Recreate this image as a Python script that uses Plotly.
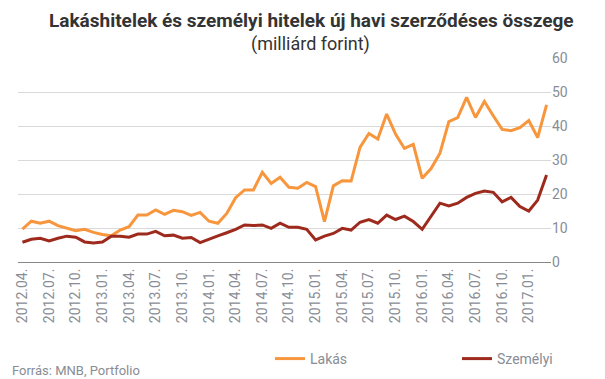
import plotly.graph_objects as go

months = [f"{y}.{m:02d}." for y in range(2012, 2018) for m in range(1, 13)]
months = months[3:3 + 60]  # 2012.04. .. 2017.03.

lakas = [9.7, 12.0, 11.4, 12.0, 10.7, 9.9, 9.2, 9.6, 8.7, 8.1,
         7.7, 9.4, 10.4, 13.8, 13.8, 15.3, 14.0, 15.2, 14.8, 13.7,
         14.6, 12.0, 11.4, 14.3, 18.9, 21.2, 21.2, 26.4, 23.1, 24.9,
         22.0, 21.7, 23.4, 22.2, 11.9, 22.4, 23.9, 23.8, 33.7, 37.8,
         36.2, 43.5, 37.6, 33.4, 34.6, 24.6, 27.5, 32.0, 41.3, 42.5,
         48.4, 42.5, 47.2, 43.0, 39.0, 38.6, 39.5, 41.6, 36.6, 46.2]

szemelyi = [5.8, 6.7, 7.0, 6.2, 7.0, 7.6, 7.3, 5.9, 5.6, 5.9,
            7.6, 7.6, 7.3, 8.2, 8.2, 9.0, 7.7, 7.9, 7.0, 7.2,
            5.7, 6.8, 7.7, 8.6, 9.6, 10.9, 10.7, 10.9, 9.9, 11.4,
            10.2, 10.2, 9.6, 6.5, 7.6, 8.4, 9.9, 9.4, 11.7, 12.5,
            11.4, 13.8, 12.5, 13.5, 11.9, 9.6, 13.5, 17.3, 16.5, 17.3,
            19.0, 20.2, 20.9, 20.5, 17.7, 19.0, 16.3, 15.0, 18.2, 25.6]

tick_idx = list(range(0, 60, 3))
tick_text = [months[i] for i in tick_idx]
y_ticks = [0, 10, 20, 30, 40, 50, 60]

GRAY = "#888d95"
FONT = "Roboto"
PW, PH = 533, 204  # plot area size in px

fig = go.Figure()
fig.add_trace(go.Scatter(x=list(range(60)), y=lakas, name="Lakás", mode="lines",
                         line=dict(color="#F7963C", width=3)))
fig.add_trace(go.Scatter(x=list(range(60)), y=szemelyi, name="Személyi", mode="lines",
                         line=dict(color="#9E2A1E", width=3)))

fig.update_layout(
    width=605, height=379,
    margin=dict(l=18, r=54, t=58, b=117, autoexpand=False),
    paper_bgcolor="white", plot_bgcolor="white",
    font=dict(family=FONT, color=GRAY, size=13),
    showlegend=True,
    legend=dict(orientation="h", x=(270 - 18) / PW, xanchor="left",
                y=-(359 - 262) / PH, yanchor="middle",
                font=dict(size=14, color=GRAY), itemwidth=30,
                entrywidth=142, entrywidthmode="pixels", traceorder="normal"),
    xaxis=dict(range=[-0.5, 59.5], tickmode="array", tickvals=tick_idx, ticktext=tick_text,
               tickangle=-90, showgrid=False, zeroline=False, showline=True,
               linecolor="#888888", linewidth=1, ticks="",
               tickfont=dict(size=14, color=GRAY, family=FONT)),
    yaxis=dict(range=[0, 60], side="right", tickvals=y_ticks, showgrid=True,
               gridcolor="#d9d9d9", gridwidth=1, zeroline=False, showline=False,
               ticks="", tickfont=dict(size=14, color=GRAY, family=FONT)),
    annotations=[
        dict(text="<b>Lakáshitelek és személyi hitelek új havi szerződéses összege</b>",
             xref="paper", yref="paper", x=(311 - 18) / PW, y=1 + (58 - 21) / PH,
             xanchor="center", yanchor="middle", showarrow=False,
             font=dict(size=19, color="#333333", family=FONT)),
        dict(text="(milliárd forint)",
             xref="paper", yref="paper", x=(310 - 18) / PW, y=1 + (58 - 44) / PH,
             xanchor="center", yanchor="middle", showarrow=False,
             font=dict(size=18, color="#333333", family=FONT)),
        dict(text="Forrás: MNB, Portfolio",
             xref="paper", yref="paper", x=-8 / PW, y=-(370 - 262) / PH,
             xanchor="left", yanchor="middle", showarrow=False,
             font=dict(size=13, color=GRAY, family=FONT)),
    ],
)

fig.write_html("out.html", config={"displayModeBar": False},
               post_script="document.body.style.margin='0';document.body.style.padding='0';")
